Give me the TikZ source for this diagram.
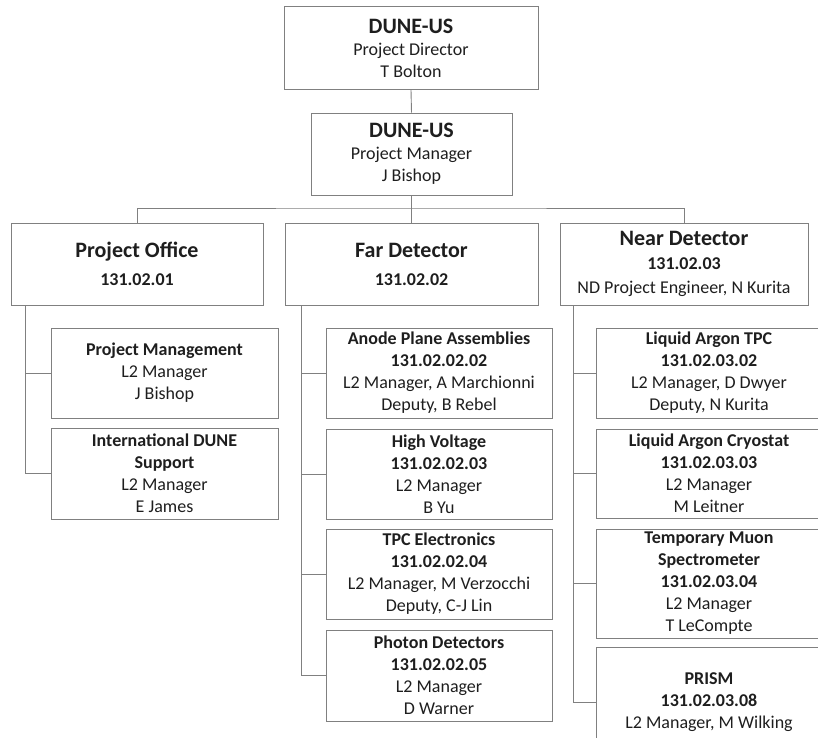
\documentclass[tikz,border=0pt]{standalone}
\usepackage{fontspec}
\setmainfont{Carlito}
\usepackage{tikz}
\definecolor{linegray}{RGB}{128,128,128}
\definecolor{textdark}{RGB}{30,30,30}
\newcommand{\Head}[1]{{\bfseries\fontsize{22}{24}\selectfont #1}}
\tikzset{
  BaseBox/.style = {rectangle, draw=linegray, line width=0.9pt, align=center, inner sep=2pt,
                    text=textdark, font=\fontsize{18}{22}\selectfont},
  DirBox/.style = {BaseBox, minimum height=83pt},
  AreaBox/.style = {BaseBox, minimum height=82pt},
  ItemBox/.style = {BaseBox, minimum width=226pt, minimum height=90pt},
  TallBox/.style = {BaseBox, minimum width=226pt, minimum height=110pt},
  Link/.style = {draw=linegray, line width=0.9pt},
}
\begin{document}
\begin{tikzpicture}[x=1pt,y=-1pt]
    \useasboundingbox (0,0) rectangle (818,737);
    \node [DirBox, minimum width=254pt] (dir) at (411,48) {\Head{DUNE-US}\\ Project Director\\ T Bolton};
    \node [DirBox, minimum width=201pt, minimum height=82pt] (mgr) at (411.5,154) {\Head{DUNE-US}\\ Project Manager\\ J Bishop};

    \node [AreaBox, minimum width=252pt] (office) at (137,264) {\Head{Project Office}\\[6pt] \textbf{131.02.01}};
    \node [AreaBox, minimum width=253pt] (far) at (411.5,264) {\Head{Far Detector}\\[6pt] \textbf{131.02.02}};
    \node [AreaBox, minimum width=248pt] (near) at (684,264) {\Head{Near Detector}\\[2pt] \textbf{131.02.03}\\[2pt] ND Project Engineer, N Kurita};

    \node [ItemBox, minimum width=227pt] (pm) at (164.5,373) {\textbf{Project Management}\\ L2 Manager\\ J Bishop};
    \node [ItemBox, minimum width=227pt, minimum height=91pt] (intl) at (164.5,473.5) {\textbf{International DUNE}\\ \textbf{Support}\\ L2 Manager\\ E James};

    \node [ItemBox] (apa) at (439,373) {\textbf{Anode Plane Assemblies}\\ \textbf{131.02.02.02}\\ L2 Manager, A Marchionni\\ Deputy, B Rebel};
    \node [ItemBox] (hv) at (439,474) {\textbf{High Voltage}\\ \textbf{131.02.02.03}\\ L2 Manager\\ B Yu};
    \node [ItemBox] (tpc) at (439,574) {\textbf{TPC Electronics}\\ \textbf{131.02.02.04}\\ L2 Manager, M Verzocchi\\ Deputy, C-J Lin};
    \node [ItemBox, minimum height=91pt] (pds) at (439,675.5) {\textbf{Photon Detectors}\\ \textbf{131.02.02.05}\\ L2 Manager\\ D Warner};

    \node [ItemBox] (lartpc) at (709,373) {\textbf{Liquid Argon TPC}\\ \textbf{131.02.03.02}\\ L2 Manager, D Dwyer\\ Deputy, N Kurita};
    \node [ItemBox, minimum height=89pt] (cryo) at (709,473.5) {\textbf{Liquid Argon Cryostat}\\ \textbf{131.02.03.03}\\ L2 Manager\\ M Leitner};
    \node [TallBox, minimum height=109pt] (tms) at (709,583.5) {\textbf{Temporary Muon}\\ \textbf{Spectrometer}\\ \textbf{131.02.03.04}\\ L2 Manager\\ T LeCompte};
    \node [TallBox] (prism) at (709,702) {\textbf{PRISM}\\ \textbf{131.02.03.08}\\ L2 Manager, M Wilking};

    \coordinate (bus) at (411.5,208);
    \draw [Link] (dir.south) -- (mgr.north);
    \draw [Link] (mgr.south) -- (far.north);
    \draw [Link] (office.north) |- (bus) -| (near.north);

    \draw [Link] ([xshift=15pt]office.south west) |- (pm.west);
    \draw [Link] ([xshift=15pt]office.south west) |- (intl.west);
    \foreach \sub in {apa,hv,tpc,pds}
        \draw [Link] ([xshift=17pt]far.south west) |- (\sub.west);
    \foreach \sub in {lartpc,cryo,tms,prism}
        \draw [Link] ([xshift=14pt]near.south west) |- (\sub.west);
\end{tikzpicture}
\end{document}
